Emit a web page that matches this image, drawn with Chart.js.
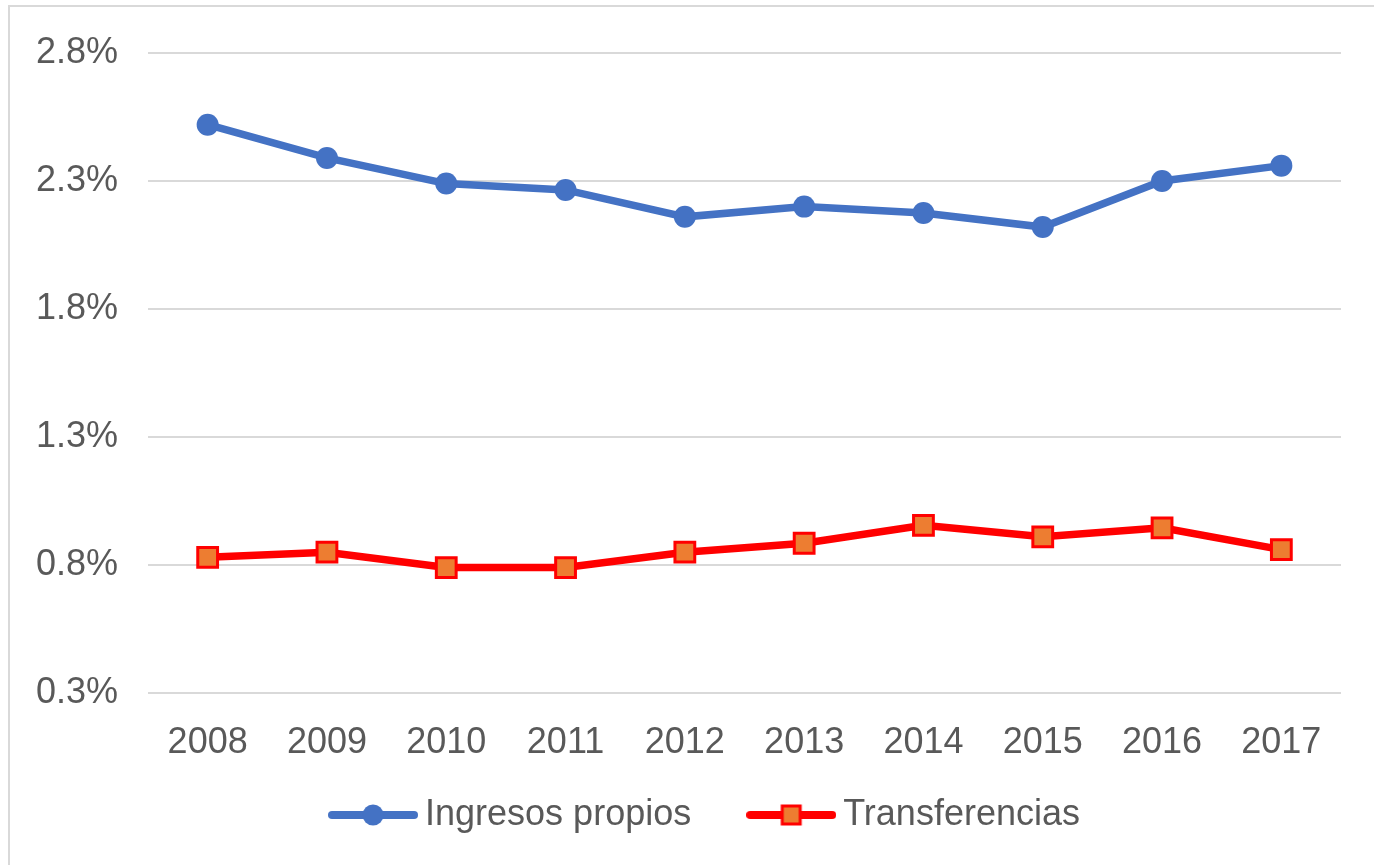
<!DOCTYPE html>
<html>
<head>
<meta charset="utf-8">
<script src="https://cdn.jsdelivr.net/npm/chart.js@4.4.0/dist/chart.umd.min.js"></script>
<style>
  body { margin: 0; background: #fff; overflow: hidden; }
  #marco { position: absolute; left: 8px; top: 5px; width: 1400px; height: 900px; border: 2px solid #d9d9d9; }
  #wrap { position: absolute; left: 0; top: 0; width: 1374px; height: 865px; }
</style>
</head>
<body>
<div id="marco"></div>
<div id="wrap"><canvas id="grafico"></canvas></div>
<script>
// datos
const anios = ['2008', '2009', '2010', '2011', '2012', '2013', '2014', '2015', '2016', '2017'];
const ingresosPropios = [2.52, 2.39, 2.29, 2.265, 2.16, 2.20, 2.175, 2.12, 2.30, 2.36];
const transferencias = [0.83, 0.85, 0.79, 0.79, 0.85, 0.885, 0.955, 0.91, 0.945, 0.86];
const ticksY = [0.3, 0.8, 1.3, 1.8, 2.3, 2.8];

const azul = '#4472C4';
const rojo = '#FF0000';
const naranja = '#ED7D31';

// iconos de la leyenda (linea + marcador, como en Excel)
function iconoLeyenda(tipo) {
  const c = document.createElement('canvas');
  c.width = 90; c.height = 26;
  const g = c.getContext('2d');
  g.lineCap = 'round';
  g.lineWidth = 8;
  g.strokeStyle = tipo === 'circulo' ? azul : rojo;
  g.beginPath(); g.moveTo(4, 13); g.lineTo(86, 13); g.stroke();
  if (tipo === 'circulo') {
    g.fillStyle = azul;
    g.beginPath(); g.arc(45, 13, 10.5, 0, Math.PI * 2); g.fill();
  } else {
    g.fillStyle = naranja;
    g.fillRect(36, 4, 18, 18);
    g.lineWidth = 3;
    g.strokeStyle = rojo;
    g.strokeRect(36, 4, 18, 18);
  }
  return c;
}

// la leyenda ocupa poco alto en el layout y luego se recoloca
const ajusteLeyenda = {
  id: 'ajusteLeyenda',
  beforeLayout(chart) {
    const leg = chart.legend;
    if (leg && !leg._fitFijo) {
      const fitOrig = leg.fit.bind(leg);
      leg.fit = function () { fitOrig(); this.height = 56; };
      leg._fitFijo = true;
    }
  },
  afterLayout(chart) {
    const leg = chart.legend;
    if (!leg) return;
    leg.top = 731;
    leg.bottom = chart.height;
    leg.height = leg.bottom - leg.top;
    leg.left += 22;
    leg.right += 22;
  }
};

const ctx = document.getElementById('grafico').getContext('2d');
new Chart(ctx, {
  type: 'line',
  data: {
    labels: anios,
    datasets: [{
      label: 'Ingresos propios',
      data: ingresosPropios,
      borderColor: azul,
      backgroundColor: azul,
      borderWidth: 7.5,
      pointStyle: 'circle',
      pointRadius: 11,
      pointBorderWidth: 0,
      pointBackgroundColor: azul,
      tension: 0
    }, {
      label: 'Transferencias',
      data: transferencias,
      borderColor: rojo,
      backgroundColor: naranja,
      borderWidth: 7.5,
      pointStyle: 'rect',
      pointRadius: 14,
      pointBorderWidth: 3,
      pointBorderColor: rojo,
      pointBackgroundColor: naranja,
      tension: 0
    }]
  },
  options: {
    responsive: true,
    maintainAspectRatio: false,
    animation: false,
    layout: { padding: { top: 53, right: 33, left: 34, bottom: 20 } },
    scales: {
      y: {
        min: 0.3,
        max: 2.8,
        afterBuildTicks: (scale) => { scale.ticks = ticksY.map(v => ({ value: v })); },
        afterFit: (scale) => { scale.width = 114; },
        border: { display: false },
        grid: { color: '#d9d9d9', lineWidth: 2, drawTicks: false },
        ticks: {
          padding: 30,
          color: '#595959',
          font: { family: 'Liberation Sans', size: 36 },
          callback: (v) => v.toFixed(1) + '%'
        }
      },
      x: {
        offset: true,
        afterFit: (scale) => { scale.height = 96; },
        border: { display: false },
        grid: { display: false, drawTicks: false },
        ticks: {
          padding: 28,
          color: '#595959',
          font: { family: 'Liberation Sans', size: 36 }
        }
      }
    },
    plugins: {
      legend: {
        position: 'bottom',
        labels: {
          usePointStyle: true,
          pointStyleWidth: 68,
          padding: 66,
          color: '#595959',
          font: { family: 'Liberation Sans', size: 36 },
          generateLabels: (chart) => chart.data.datasets.map((ds, i) => ({
            text: ds.label,
            pointStyle: iconoLeyenda(i === 0 ? 'circulo' : 'cuadrado'),
            fillStyle: ds.backgroundColor,
            strokeStyle: ds.borderColor,
            lineWidth: 0,
            fontColor: '#595959',
            hidden: false,
            datasetIndex: i
          }))
        }
      },
      tooltip: { enabled: false }
    }
  },
  plugins: [ajusteLeyenda]
});
</script>
</body>
</html>
